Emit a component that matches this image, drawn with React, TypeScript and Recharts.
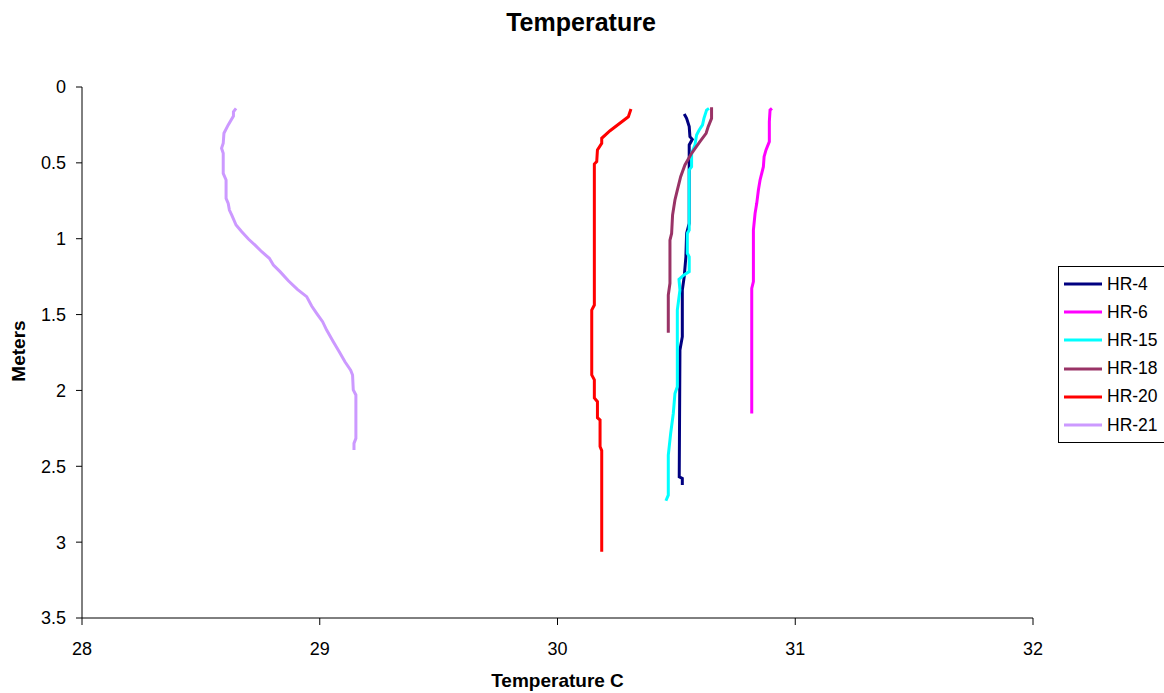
import { ScatterChart, Scatter, XAxis, YAxis, Legend, Label } from "recharts";

const font = '"Liberation Sans", Arial, sans-serif';

const xTicks = [28, 29, 30, 31, 32];
const yTicks = [0, 0.5, 1, 1.5, 2, 2.5, 3, 3.5];

const hr4Temp = [30.533, 30.543, 30.554, 30.557, 30.567, 30.554, 30.554, 30.543, 30.54, 30.533, 30.525, 30.525, 30.515, 30.512, 30.525, 30.525];
const hr4Depth = [0.178, 0.207, 0.261, 0.327, 0.345, 0.382, 0.899, 0.965, 1.119, 1.25, 1.338, 1.646, 1.734, 2.569, 2.58, 2.624];

const hr6Temp = [30.902, 30.894, 30.891, 30.891, 30.877, 30.869, 30.866, 30.852, 30.845, 30.838, 30.831, 30.824, 30.824, 30.817, 30.817];
const hr6Depth = [0.141, 0.152, 0.229, 0.36, 0.415, 0.459, 0.525, 0.613, 0.679, 0.767, 0.833, 0.943, 1.283, 1.327, 2.152];

const hr15Temp = [30.637, 30.627, 30.616, 30.61, 30.596, 30.585, 30.578, 30.564, 30.564, 30.554, 30.554, 30.546, 30.546, 30.554, 30.554, 30.532, 30.511, 30.515, 30.504, 30.504, 30.494, 30.487, 30.476, 30.466, 30.466, 30.456];
const hr15Depth = [0.141, 0.152, 0.207, 0.25, 0.283, 0.316, 0.382, 0.437, 0.525, 0.547, 0.943, 0.965, 1.096, 1.119, 1.217, 1.239, 1.268, 1.338, 1.47, 1.976, 2.02, 2.152, 2.283, 2.426, 2.69, 2.727];

const hr18Temp = [30.648, 30.648, 30.634, 30.625, 30.599, 30.564, 30.536, 30.518, 30.504, 30.494, 30.484, 30.48, 30.473, 30.473, 30.466, 30.466];
const hr18Depth = [0.134, 0.207, 0.261, 0.305, 0.36, 0.437, 0.514, 0.591, 0.679, 0.745, 0.844, 0.965, 1.009, 1.294, 1.371, 1.62];

const hr20Temp = [30.309, 30.298, 30.221, 30.186, 30.186, 30.168, 30.165, 30.155, 30.155, 30.144, 30.144, 30.155, 30.155, 30.168, 30.168, 30.179, 30.179, 30.186, 30.186];
const hr20Depth = [0.145, 0.196, 0.288, 0.338, 0.371, 0.415, 0.492, 0.508, 1.437, 1.47, 1.898, 1.93, 2.05, 2.074, 2.18, 2.195, 2.37, 2.397, 3.063];

const hr21Temp = [28.648, 28.637, 28.637, 28.615, 28.597, 28.594, 28.587, 28.594, 28.594, 28.606, 28.606, 28.615, 28.62, 28.63, 28.648, 28.672, 28.7, 28.728, 28.756, 28.788, 28.805, 28.833, 28.868, 28.906, 28.945, 28.966, 28.987, 29.012, 29.029, 29.057, 29.082, 29.106, 29.13, 29.138, 29.141, 29.152, 29.152, 29.144, 29.144];
const hr21Depth = [0.141, 0.163, 0.191, 0.25, 0.305, 0.371, 0.404, 0.437, 0.569, 0.613, 0.734, 0.767, 0.811, 0.844, 0.91, 0.954, 1.002, 1.042, 1.086, 1.129, 1.173, 1.217, 1.277, 1.334, 1.382, 1.444, 1.492, 1.547, 1.602, 1.679, 1.745, 1.811, 1.866, 1.898, 1.997, 2.03, 2.316, 2.349, 2.393];

const toPoints = (temp: number[], depth: number[]) => temp.map((t, i) => ({ t, d: depth[i] }));

const series = [
  { name: "HR-4", color: "#000080", data: toPoints(hr4Temp, hr4Depth) },
  { name: "HR-6", color: "#FF00FF", data: toPoints(hr6Temp, hr6Depth) },
  { name: "HR-15", color: "#00FFFF", data: toPoints(hr15Temp, hr15Depth) },
  { name: "HR-18", color: "#993366", data: toPoints(hr18Temp, hr18Depth) },
  { name: "HR-20", color: "#FF0000", data: toPoints(hr20Temp, hr20Depth) },
  { name: "HR-21", color: "#CC99FF", data: toPoints(hr21Temp, hr21Depth) },
];

const LegendBox = () => (
  <div
    style={{
      border: "1px solid #000",
      borderRight: "none",
      background: "#fff",
      padding: "3px 0",
      fontFamily: font,
      fontSize: 17.5,
      color: "#000",
      whiteSpace: "nowrap",
      overflow: "hidden",
    }}
  >
    {series.map((s) => (
      <div key={s.name} style={{ display: "flex", alignItems: "center", height: 28.2 }}>
        <svg width={48} height={6} style={{ flex: "none" }}>
          <line x1={5} y1={3} x2={43} y2={3} stroke={s.color} strokeWidth={3} />
        </svg>
        <span style={{ flex: "none" }}>{s.name}</span>
      </div>
    ))}
  </div>
);

const App = () => {
  return (
    <div style={{ position: "relative", width: 1164, height: 693, background: "#fff", overflow: "hidden" }}>
      <style>{"body { margin: 0; }"}</style>
      <div
        style={{
          position: "absolute",
          top: 10,
          left: 0,
          width: 1162,
          textAlign: "center",
          fontFamily: font,
          fontWeight: "bold",
          fontSize: 25,
          lineHeight: "25px",
          color: "#000",
          zIndex: 1,
        }}
      >
        Temperature
      </div>
      <ScatterChart width={1164} height={693} margin={{ top: 87, right: 131, bottom: 0, left: 8 }}>
        <XAxis
          type="number"
          dataKey="t"
          domain={[28, 32]}
          ticks={xTicks}
          allowDataOverflow
          height={75}
          tickSize={7}
          tickMargin={17}
          axisLine={{ stroke: "#000" }}
          tickLine={{ stroke: "#000" }}
          tick={{ fill: "#000", fontSize: 18, fontFamily: font }}
        >
          <Label
            content={() => (
              <text x={557.5} y={687} textAnchor="middle" fontFamily={font} fontSize={19} fontWeight="bold" fill="#000">
                Temperature C
              </text>
            )}
          />
        </XAxis>
        <YAxis
          type="number"
          dataKey="d"
          domain={[0, 3.5]}
          ticks={yTicks}
          reversed
          allowDataOverflow
          width={74}
          tickSize={6}
          tickMargin={10}
          axisLine={{ stroke: "#000" }}
          tickLine={{ stroke: "#000" }}
          tick={{ fill: "#000", fontSize: 18, fontFamily: font }}
        >
          <Label
            content={() => (
              <text
                x={25}
                y={351}
                transform="rotate(-90 25 351)"
                textAnchor="middle"
                fontFamily={font}
                fontSize={19}
                fontWeight="bold"
                fill="#000"
              >
                Meters
              </text>
            )}
          />
        </YAxis>
        <Legend
          layout="vertical"
          align="center"
          verticalAlign="middle"
          content={() => <LegendBox />}
          wrapperStyle={{ left: 1058, top: 266, width: 106 }}
        />
        {series.map((s) => (
          <Scatter
            key={s.name}
            name={s.name}
            data={s.data}
            fill={s.color}
            line={{ stroke: s.color, strokeWidth: 3 }}
            shape={() => <g />}
            isAnimationActive={false}
          />
        ))}
      </ScatterChart>
    </div>
  );
};

export default App;
